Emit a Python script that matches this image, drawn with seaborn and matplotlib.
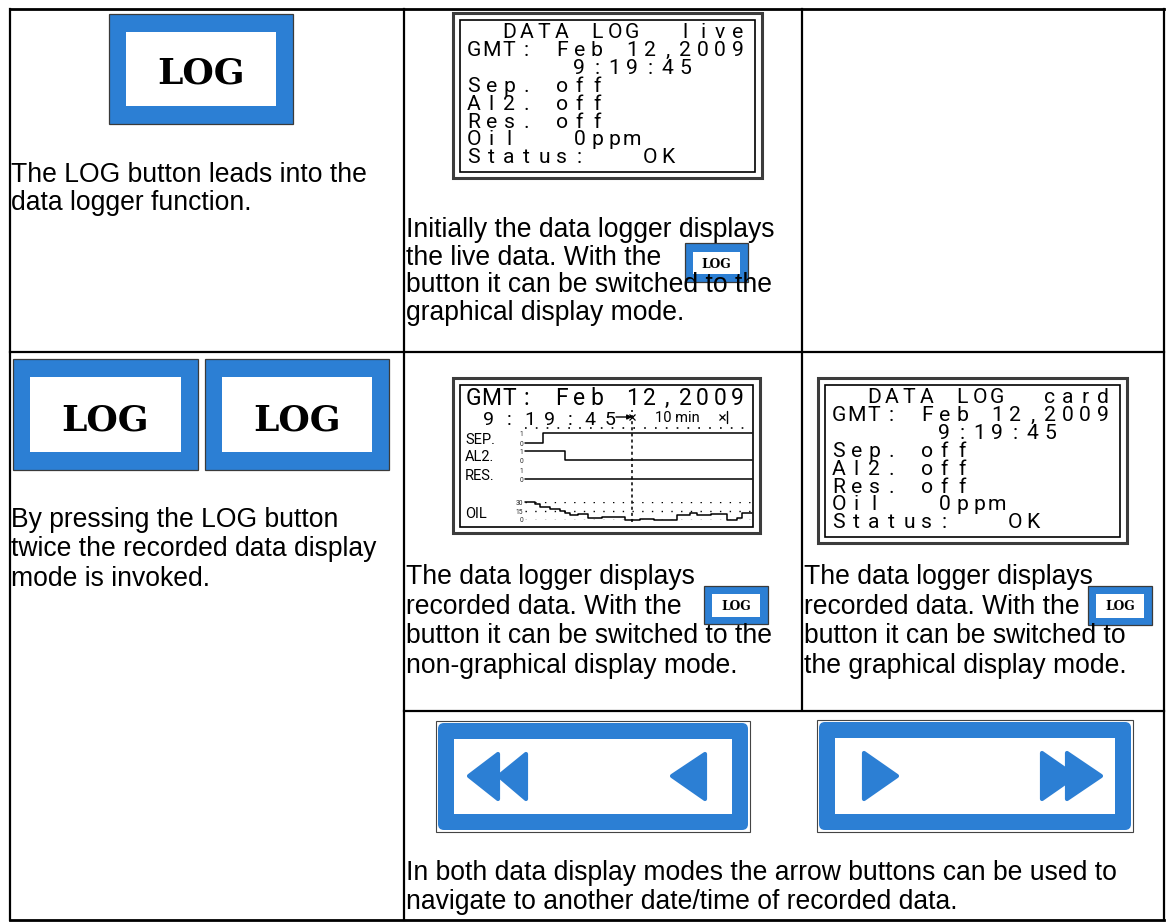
import matplotlib
matplotlib.use("Agg")
import matplotlib.pyplot as plt
from matplotlib.patches import Rectangle, FancyBboxPatch, Polygon
import seaborn as sns

# ----------------- data -----------------
live_screen = ["  DATA LOG  live", "GMT: Feb 12,2009", "      9:19:45",
               "Sep. off", "Al2. off", "Res. off", "Oil   0ppm", "Status:   OK"]
card_screen = ["  DATA LOG  card", "GMT: Feb 12,2009", "      9:19:45",
               "Sep. off", "Al2. off", "Res. off", "Oil   0ppm", "Status:   OK"]
graph_date = "GMT: Feb 12,2009"
graph_time = "9:19:45"
window_label = "10 min"
channel_names = ["SEP.", "AL2.", "RES.", "OIL"]
cursor_min = 11.9
window_min = 10.0
span_min = 25.2

sep_time = [0.0, 2.0, 25.2]
sep_state = [0, 1, 1]
al2_time = [0.0, 4.4, 25.2]
al2_state = [1, 0, 0]
res_time = [0.0, 25.2]
res_state = [0, 0]
oil_time = [0.0, 1.1, 1.7, 2.8, 3.9, 4.4, 5.0, 5.9, 7.0, 8.5, 11.1, 12.8,
            14.3, 16.9, 18.3, 19.1, 20.6, 22.4, 23.5, 24.1, 25.2]
oil_ppm = [30, 26, 21, 18, 15, 12, 8, 10, 4, 5, 0, 2,
           0, 9, 12, 8, 10, 0, 4, 12, 12]
oil_ticks = [0, 15, 30]
state_ticks = [0, 1]

text_log = ["The LOG button leads into the", "data logger function."]
text_live = ["Initially the data logger displays", "the live data. With the",
             "button it can be switched to the", "graphical display mode."]
text_twice = ["By pressing the LOG button", "twice the recorded data display",
              "mode is invoked."]
text_graph = ["The data logger displays", "recorded data. With the",
              "button it can be switched to the", "non-graphical display mode."]
text_card = ["The data logger displays", "recorded data. With the",
             "button it can be switched to", "the graphical display mode."]
text_arrows = ["In both data display modes the arrow buttons can be used to",
               "navigate to another date/time of recorded data."]

# ----------------- style -----------------
sns.set_style("white")
plt.rcParams["font.family"] = ["Liberation Sans", "DejaVu Sans"]
BLUE = "#2C7FD4"
LCD_FONT = dict(family=["Roboto", "DejaVu Sans"], fontweight="normal")
BODY_FS = 19.1

W, H = 1169, 922
fig = plt.figure(figsize=(W / 100, H / 100), dpi=100)
fig.patch.set_facecolor("white")
page = fig.add_axes([0, 0, 1, 1])
page.set_xlim(0, W)
page.set_ylim(H, 0)
page.axis("off")


def px_axes(x0, y0, x1, y1):
    ax = fig.add_axes([x0 / W, 1 - y1 / H, (x1 - x0) / W, (y1 - y0) / H])
    ax.set_facecolor("none")
    for s in ax.spines.values():
        s.set_visible(False)
    return ax


# ----------------- table grid -----------------
def hline(y, x0, x1, lw=1.6):
    page.plot([x0, x1], [y, y], color="black", lw=lw, solid_capstyle="projecting")


def vline(x, y0, y1, lw=1.6):
    page.plot([x, x], [y0, y1], color="black", lw=lw, solid_capstyle="projecting")


hline(9.5, 10, 1164, 2.0)
hline(920, 10, 1164, 2.0)
vline(10, 9.5, 920)
vline(1164, 9.5, 920)
vline(404, 9.5, 920)
vline(802, 9.5, 710)
hline(352.5, 10, 1164)
hline(710.5, 404, 1164)


# ----------------- LOG buttons -----------------
def log_button(x0, y0, x1, y1, tx, ty, fs, base):
    page.add_patch(Rectangle((x0, y0), x1 - x0, y1 - y0, facecolor=BLUE,
                             edgecolor="#3a3a3a", lw=0.9))
    page.add_patch(Rectangle((x0 + tx, y0 + ty), x1 - x0 - 2 * tx, y1 - y0 - 2 * ty,
                             facecolor="white", edgecolor="none"))
    page.text((x0 + x1) / 2, base, "LOG", ha="center", va="baseline",
              fontsize=fs, fontweight="bold", family="DejaVu Serif", color="black")


log_button(109, 14, 293, 124, 17, 18, 26, 83)
log_button(13, 359, 198, 470, 17, 18, 26, 430)
log_button(205, 359, 389, 470, 17, 18, 26, 430)
log_button(685, 243, 748, 282, 8, 8.5, 8.8, 268)
log_button(704, 586, 768, 624, 8, 7.5, 8.8, 609.5)
log_button(1088, 586, 1152, 625, 8, 7.5, 8.8, 609.5)


# ----------------- body text -----------------
def para(lines, x, base0, step):
    for i, t in enumerate(lines):
        page.text(x, base0 + i * step, t, ha="left", va="baseline",
                  fontsize=BODY_FS, color="black")


para(text_log, 11, 182, 27.5)
para(text_live, 405.5, 237, 27.5)
para(text_twice, 11, 527, 29.3)
para(text_graph, 405.5, 584, 29.5)
para(text_card, 803.5, 584, 29.5)
para(text_arrows, 405.5, 880, 28.5)


# ----------------- LCD screens -----------------
def lcd_frame(x0, y0, x1, y1):
    page.add_patch(Rectangle((x0, y0), x1 - x0, y1 - y0, facecolor="white",
                             edgecolor="#3c3c3c", lw=2.2))
    page.add_patch(Rectangle((x0 + 7, y0 + 7), x1 - x0 - 14, y1 - y0 - 13,
                             facecolor="none", edgecolor="black", lw=1.2))


def lcd_text(lines, x0, base0, cell, pitch, fs):
    for r, line in enumerate(lines):
        for c, ch in enumerate(line):
            if ch != " ":
                page.text(x0 + cell * (c + 0.5), base0 + pitch * r, ch,
                          ha="center", va="baseline", fontsize=fs,
                          color="black", **LCD_FONT)


lcd_frame(453, 13, 762, 178)
lcd_text(live_screen, 465, 38, 17.6, 17.9, 15.2)
lcd_frame(818, 378, 1127, 543)
lcd_text(card_screen, 830, 403, 17.6, 17.9, 15.2)

# graphical screen
lcd_frame(453, 378, 760, 533)
lcd_text([graph_date], 465, 405, 17.6, 0, 16.5)
for i, ch in enumerate(graph_time):
    page.text(489 + 20.2 * i, 424.5, ch, ha="center", va="baseline", fontsize=14,
              color="black", **LCD_FONT)

for name, base in zip(channel_names, [443.5, 460.5, 479.5, 517.5]):
    page.text(465, base, name, ha="left", va="baseline", fontsize=10.5,
              color="black", **LCD_FONT)

# time line / cursor axes
tl = px_axes(525, 405, 752, 524)
tl.set_xlim(0, span_min)
tl.set_ylim(524, 405)
tl.set_xticks([])
tl.set_yticks([])
tl.axvline(cursor_min, ymin=2 / 119, ymax=114 / 119, color="black", lw=1.1,
           linestyle=(0, (2, 2)))
tl.axhline(428, xmin=0, xmax=220 / 227, color="black", lw=1.2,
           linestyle=(0, (1, 5.5)))
tl.annotate("", xy=(cursor_min, 417), xytext=(cursor_min - 1.8, 417),
            arrowprops=dict(arrowstyle="-|>", lw=1.0, color="black",
                            mutation_scale=7, shrinkA=0, shrinkB=0))
tl.plot([cursor_min, cursor_min + window_min], [417, 417], "x", color="black",
        ms=4, mew=0.9)
tl.plot([cursor_min + window_min + 0.5] * 2, [411, 423], color="black", lw=1.0)
tl.text(cursor_min + window_min / 2, 422, window_label, ha="center",
        va="baseline", fontsize=10.5, color="black", **LCD_FONT)


# channel traces
def channel(x0, y0, x1, y1, t, v, ticks, lim):
    ax = px_axes(x0, y0, x1, y1)
    sns.lineplot(x=t, y=v, ax=ax, color="black", linewidth=1.1,
                 drawstyle="steps-post", estimator=None, clip_on=False)
    ax.set_xlim(0, span_min)
    ax.set_ylim(*lim)
    ax.set_xticks([])
    ax.set_yticks(ticks)
    ax.set_yticklabels([str(k) for k in ticks])
    ax.tick_params(axis="y", length=0, pad=1.5, labelsize=4.8)
    for lab in ax.get_yticklabels():
        lab.set_family(["Roboto", "DejaVu Sans"])
    ax.set_xlabel("")
    ax.set_ylabel("")
    return ax


channel(525, 433, 752, 443, sep_time, sep_state, state_ticks, (0, 1))
channel(525, 451, 752, 460, al2_time, al2_state, state_ticks, (0, 1))
channel(525, 470, 752, 479, res_time, res_state, state_ticks, (0, 1))
oil_ax = channel(525, 502, 752, 520, oil_time, oil_ppm, oil_ticks, (0, 30))
oil_ax.grid(True, axis="y", color="black", lw=1.0, linestyle=(0, (1, 6)))
oil_ax.set_axisbelow(True)


# ----------------- arrow buttons -----------------
def arrow_button(x0, y0, x1, y1, t, tris):
    page.add_patch(Rectangle((x0 - 2, y0 - 2), x1 - x0 + 4, y1 - y0 + 4,
                             facecolor="white", edgecolor="#444444", lw=0.8))
    page.add_patch(FancyBboxPatch((x0, y0), x1 - x0, y1 - y0,
                                  boxstyle="round,pad=0,rounding_size=6",
                                  facecolor=BLUE, edgecolor="none"))
    page.add_patch(Rectangle((x0 + t, y0 + t), x1 - x0 - 2 * t, y1 - y0 - 2 * t,
                             facecolor="white", edgecolor="none"))
    for tri in tris:
        page.add_patch(Polygon(tri, closed=True, facecolor=BLUE, edgecolor=BLUE,
                               lw=3, joinstyle="round"))


arrow_button(438, 723, 748, 830, 16, [
    [(469, 776), (498, 754), (498, 799)],
    [(499, 776), (526, 754), (526, 799)],
    [(672, 776), (705, 754), (705, 799)],
])
arrow_button(819, 722, 1131, 830, 16, [
    [(864, 753), (864, 799), (897, 776)],
    [(1042, 753), (1042, 799), (1075, 776)],
    [(1067, 753), (1067, 799), (1101, 776)],
])

fig.savefig("out.png", dpi=100, facecolor="white")
